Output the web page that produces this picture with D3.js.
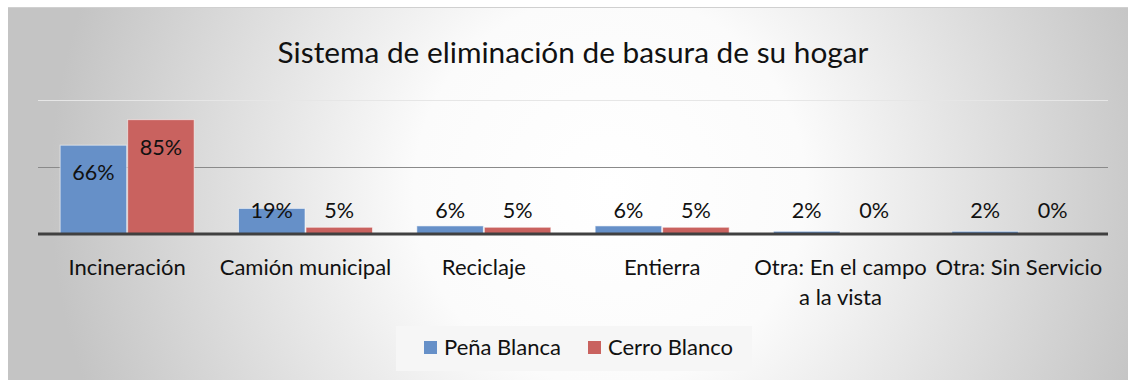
<!DOCTYPE html>
<html>
<head>
<meta charset="utf-8">
<script src="https://cdn.jsdelivr.net/npm/d3@7"></script>
<style>
  html, body { margin: 0; padding: 0; background: #ffffff; }
  svg { display: block; }
  text { font-family: Lato, "Open Sans", sans-serif; fill: #111; }
</style>
</head>
<body>
<script>
// Categories and values (share of households, %)
const categories = [
  ["Incineración"],
  ["Camión municipal"],
  ["Reciclaje"],
  ["Entierra"],
  ["Otra: En el campo", "a la vista"],
  ["Otra: Sin Servicio"]
];
const seriesNames = ["Peña Blanca", "Cerro Blanco"];
const penaBlanca = [66, 19, 6, 6, 2, 2];
const cerroBlanco = [85, 5, 5, 5, 0, 0];
const gridTicks = [0, 50, 100];
const title = "Sistema de eliminación de basura de su hogar";

const W = 1128, H = 381;
const colors = ["#6690c8", "#c9625f"];

const svg = d3.select("body").append("svg").attr("width", W).attr("height", H);

// Radial grey-to-white background of the chart area
const defs = svg.append("defs");
const grad = defs.append("radialGradient")
  .attr("id", "bg").attr("gradientUnits", "userSpaceOnUse")
  .attr("cx", 610).attr("cy", 190).attr("r", 560);
grad.append("stop").attr("offset", "0").attr("stop-color", "#ffffff");
grad.append("stop").attr("offset", "0.35").attr("stop-color", "#fbfbfb");
grad.append("stop").attr("offset", "1").attr("stop-color", "#c4c4c4");

svg.append("rect").attr("x", 8).attr("y", 7).attr("width", W - 8).attr("height", 373)
  .attr("fill", "url(#bg)");
svg.append("line").attr("x1", 8).attr("x2", W).attr("y1", 7.5).attr("y2", 7.5)
  .attr("stroke", "#d0d0d0");

// Scales
const x0 = d3.scaleBand().domain(d3.range(categories.length))
  .range([38, 1108]).paddingInner(0.243).paddingOuter(0.1215);
const x1 = d3.scaleBand().domain([0, 1]).range([0, x0.bandwidth()]);
const y = d3.scaleLinear().domain([0, 100]).range([234, 99.5]);

// Gridlines
svg.append("g").selectAll("line").data(gridTicks.filter(t => t > 0)).join("line")
  .attr("x1", 38).attr("x2", 1108)
  .attr("y1", d => Math.round(y(d)) + 0.5).attr("y2", d => Math.round(y(d)) + 0.5)
  .attr("stroke", d => d === 100 ? "#e6e6e6" : "#8a8a8a").attr("stroke-width", 1);

// Bars
const rows = categories.map((c, i) => [penaBlanca[i], cerroBlanco[i]]);
const groups = svg.append("g").selectAll("g").data(rows).join("g")
  .attr("transform", (d, i) => `translate(${x0(i)},0)`);

groups.selectAll("rect").data(d => d).join("rect")
  .attr("x", (d, j) => x1(j) + 0.5)
  .attr("width", x1.bandwidth() - 1)
  .attr("y", d => y(d))
  .attr("height", d => y(0) - y(d))
  .attr("fill", (d, j) => colors[j])
  .attr("stroke", "rgba(255,255,255,0.55)").attr("stroke-width", 1);

// Value labels: inside the top of tall bars, above the short ones
groups.selectAll("text").data(d => d).join("text")
  .attr("x", (d, j) => x1(j) + x1.bandwidth() / 2)
  .attr("y", d => Math.min(y(d) + 27.5, 210))
  .attr("dy", "0.35em")
  .attr("text-anchor", "middle")
  .attr("font-size", 21.6)
  .text(d => d + "%");

// Baseline
svg.append("line").attr("x1", 38).attr("x2", 1108)
  .attr("y1", y(0)).attr("y2", y(0))
  .attr("stroke", "#404040").attr("stroke-width", 3);

// Category labels
const catG = svg.append("g").selectAll("text").data(categories).join("text")
  .attr("x", (d, i) => x0(i) + x0.bandwidth() / 2)
  .attr("y", 267)
  .attr("text-anchor", "middle")
  .attr("font-size", 22);
catG.selectAll("tspan").data(d => d).join("tspan")
  .attr("x", function () { return d3.select(this.parentNode).attr("x"); })
  .attr("dy", (d, k) => k === 0 ? "0.35em" : "1.36em")
  .text(d => d);

// Title
svg.append("text").attr("x", 573).attr("y", 53).attr("dy", "0.35em")
  .attr("text-anchor", "middle").attr("font-size", 29.8)
  .text(title);

// Legend
const lg = svg.append("g");
lg.append("rect").attr("x", 396).attr("y", 326).attr("width", 356).attr("height", 45)
  .attr("fill", "#f6f6f6");
const legendX = [424, 588];
seriesNames.forEach((name, j) => {
  lg.append("rect").attr("x", legendX[j]).attr("y", 341).attr("width", 13).attr("height", 13)
    .attr("fill", colors[j]);
  lg.append("text").attr("x", legendX[j] + 20).attr("y", 347.5).attr("dy", "0.35em")
    .attr("font-size", 22).text(name);
});
</script>
</body>
</html>
